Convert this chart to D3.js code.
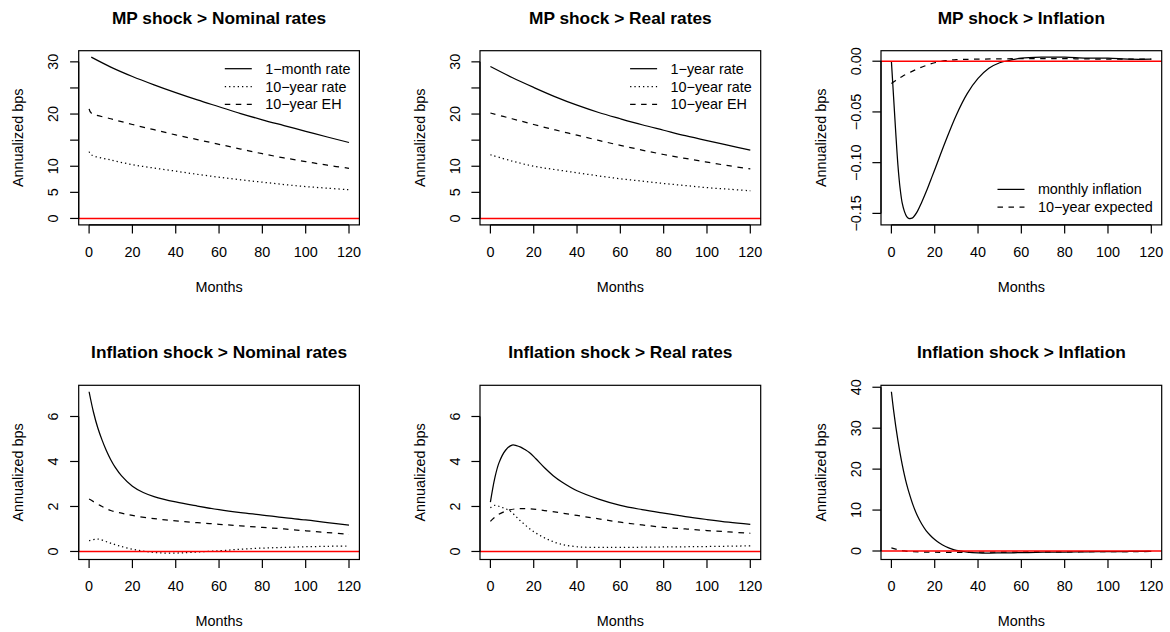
<!DOCTYPE html>
<html><head><meta charset="utf-8">
<script src="https://cdn.jsdelivr.net/npm/d3@7"></script>
<style>
body{margin:0;background:#fff}
svg{display:block}
text{font-family:"Liberation Sans",Arial,Helvetica,sans-serif;fill:#000}
</style>
</head><body>
<svg id="c" width="1170" height="632"></svg>
<script>
// ---------------- DATA ----------------
const xTicks = [0, 20, 40, 60, 80, 100, 120];
const xTickLabels = ["0", "20", "40", "60", "80", "100", "120"];

// Panel 1: MP shock > Nominal rates
const p1SolidX = [1, 10, 20, 30, 40, 50, 60, 70, 80, 90, 100, 110, 120];
const p1SolidY = [30.9, 29.0, 27.2, 25.6, 24.1, 22.7, 21.4, 20.1, 18.9, 17.8, 16.7, 15.6, 14.55];
const p1DashX = [0, 1, 10, 20, 30, 40, 50, 60, 70, 80, 90, 100, 110, 120];
const p1DashY = [21.0, 20.2, 19.1, 18.0, 17.0, 16.0, 15.1, 14.2, 13.3, 12.4, 11.6, 10.9, 10.2, 9.6];
const p1DotX = [0, 1, 10, 20, 30, 40, 50, 60, 70, 80, 90, 100, 110, 120];
const p1DotY = [12.8, 12.2, 11.2, 10.3, 9.65, 9.06, 8.45, 7.9, 7.4, 6.95, 6.5, 6.1, 5.8, 5.5];
const p1Legend = ["1\u2212month rate", "10\u2212year rate", "10\u2212year EH"];

// Panel 2: MP shock > Real rates
const p2SolidX = [0, 10, 20, 30, 40, 50, 60, 70, 80, 90, 100, 110, 120];
const p2SolidY = [29.1, 27.0, 25.1, 23.3, 21.7, 20.3, 19.1, 17.95, 16.9, 15.85, 14.9, 14.0, 13.1];
const p2DashX = [0, 10, 20, 30, 40, 50, 60, 70, 80, 90, 100, 110, 120];
const p2DashY = [20.2, 19.1, 18.0, 16.95, 15.95, 14.95, 14.0, 13.1, 12.25, 11.5, 10.8, 10.1, 9.5];
const p2DotX = [0, 10, 20, 30, 40, 50, 60, 70, 80, 90, 100, 110, 120];
const p2DotY = [12.2, 11.0, 10.0, 9.35, 8.75, 8.15, 7.6, 7.15, 6.7, 6.3, 5.9, 5.6, 5.3];
const p2Legend = ["1\u2212year rate", "10\u2212year rate", "10\u2212year EH"];

const topYTicks = [0, 5, 10, 15, 20, 25, 30];
const topYLabels = ["0", "5", "10", "", "20", "", "30"];

// Panel 3: MP shock > Inflation
const p3SolidX = [0, 1, 2, 3, 4, 5, 6, 7, 8, 9, 10, 12, 14, 16, 18, 20, 25, 30, 35, 40, 45, 50, 55, 60, 70, 80, 90, 100, 110, 120];
const p3SolidY = [0, -0.035, -0.07, -0.102, -0.125, -0.14, -0.148, -0.153, -0.155, -0.155, -0.154, -0.148, -0.139, -0.129, -0.118, -0.107, -0.079, -0.053, -0.032, -0.017, -0.007, -0.0015, 0.001, 0.003, 0.004, 0.004, 0.003, 0.003, 0.002, 0.002];
const p3DashX = [0, 2, 5, 10, 15, 20, 25, 30, 40, 60, 80, 100, 120];
const p3DashY = [-0.022, -0.019, -0.015, -0.0095, -0.005, -0.0015, 0.0005, 0.0015, 0.002, 0.0025, 0.0025, 0.002, 0.002];
const p3Legend = ["monthly inflation", "10\u2212year expected"];
const p3YTicks = [-0.15, -0.10, -0.05, 0.00];
const p3YLabels = ["\u22120.15", "\u22120.10", "\u22120.05", "0.00"];

// Panel 4: Inflation shock > Nominal rates
const p4SolidX = [0, 2, 4, 6, 8, 10, 12, 15, 20, 25, 30, 40, 50, 60, 70, 80, 90, 100, 110, 120];
const p4SolidY = [7.1, 6.2, 5.5, 4.95, 4.48, 4.08, 3.75, 3.36, 2.9, 2.62, 2.44, 2.2, 2.02, 1.86, 1.73, 1.62, 1.5, 1.4, 1.28, 1.17];
const p4DashX = [0, 5, 10, 15, 20, 30, 40, 50, 60, 70, 80, 90, 100, 110, 120];
const p4DashY = [2.33, 2.05, 1.82, 1.7, 1.6, 1.46, 1.36, 1.28, 1.21, 1.14, 1.07, 1.0, 0.92, 0.84, 0.76];
const p4DotX = [0, 4, 9, 13.5, 20, 26, 32, 40, 47, 60, 70, 80, 90, 100, 110, 120];
const p4DotY = [0.48, 0.55, 0.40, 0.26, 0.1, 0, -0.06, -0.07, -0.04, 0.03, 0.1, 0.15, 0.18, 0.21, 0.23, 0.24];

// Panel 5: Inflation shock > Real rates
const p5SolidX = [0, 2, 4, 7, 10, 12, 14, 16, 18, 21, 25, 29, 33, 40, 50, 60, 70, 80, 90, 100, 110, 120];
const p5SolidY = [2.19, 3.25, 3.95, 4.5, 4.73, 4.71, 4.64, 4.53, 4.4, 4.12, 3.72, 3.37, 3.09, 2.7, 2.33, 2.05, 1.86, 1.70, 1.55, 1.42, 1.3, 1.2];
const p5DashX = [0, 3.5, 9, 15, 25, 40, 50, 60, 70, 80, 90, 100, 110, 120];
const p5DashY = [1.34, 1.63, 1.85, 1.91, 1.82, 1.6, 1.45, 1.3, 1.18, 1.07, 1.0, 0.93, 0.87, 0.81];
const p5DotX = [0, 2, 5, 9, 14, 20, 26, 32, 40, 50, 60, 80, 100, 120];
const p5DotY = [1.94, 2.05, 1.97, 1.8, 1.35, 0.88, 0.56, 0.34, 0.21, 0.18, 0.18, 0.2, 0.22, 0.25];

const botYTicks = [0, 2, 4, 6];
const botYLabels = ["0", "2", "4", "6"];

// Panel 6: Inflation shock > Inflation
const p6SolidX = [0, 1, 2, 3, 4, 5, 6, 7, 8, 10, 12, 14, 16, 18, 20, 22, 25, 28, 30, 35, 40, 45, 50, 60, 70, 80, 90, 100, 110, 120];
const p6SolidY = [38.9, 34.4, 30.5, 27.0, 23.9, 21.1, 18.6, 16.4, 14.5, 11.2, 8.6, 6.6, 5.0, 3.8, 2.8, 2.0, 1.1, 0.45, 0.15, -0.25, -0.45, -0.5, -0.48, -0.4, -0.3, -0.25, -0.2, -0.15, -0.12, -0.1];
const p6DashX = [0, 2, 4, 6, 8, 10, 15, 20, 30, 40, 60, 80, 100, 120];
const p6DashY = [0.75, 0.45, 0.2, 0.02, -0.1, -0.18, -0.25, -0.3, -0.32, -0.3, -0.25, -0.2, -0.15, -0.12];
const p6YTicks = [0, 10, 20, 30, 40];
const p6YLabels = ["0", "10", "20", "30", "40"];

const titles = ["MP shock > Nominal rates", "MP shock > Real rates", "MP shock > Inflation",
  "Inflation shock > Nominal rates", "Inflation shock > Real rates", "Inflation shock > Inflation"];

// ---------------- LAYOUT ----------------
const colLeft = [78.7, 480, 881];
const rowTop = [50.7, 385.3];
const boxW = 280.7, boxH = 174.2;
const fs = 14.4, titleFs = 17.3;
const DASH = "5.5,5.5", DOT = "1.3,3";
const styles = {solid: null, dash: DASH, dot: DOT};

function mk(x, y, lty) { return {pts: x.map((v, i) => [v, y[i]]), lty}; }

const panels = [
  {row:0, col:0, series:[mk(p1SolidX,p1SolidY,"solid"), mk(p1DotX,p1DotY,"dot"), mk(p1DashX,p1DashY,"dash")],
   legend:{labels:p1Legend, lty:["solid","dot","dash"], pos:"top"}, yt:topYTicks, yl:topYLabels, group:"top"},
  {row:0, col:1, series:[mk(p2SolidX,p2SolidY,"solid"), mk(p2DotX,p2DotY,"dot"), mk(p2DashX,p2DashY,"dash")],
   legend:{labels:p2Legend, lty:["solid","dot","dash"], pos:"top"}, yt:topYTicks, yl:topYLabels, group:"top"},
  {row:0, col:2, series:[mk(p3SolidX,p3SolidY,"solid"), mk(p3DashX,p3DashY,"dash")],
   legend:{labels:p3Legend, lty:["solid","dash"], pos:"bottom"}, yt:p3YTicks, yl:p3YLabels, group:"p3"},
  {row:1, col:0, series:[mk(p4SolidX,p4SolidY,"solid"), mk(p4DotX,p4DotY,"dot"), mk(p4DashX,p4DashY,"dash")],
   legend:null, yt:botYTicks, yl:botYLabels, group:"bot"},
  {row:1, col:1, series:[mk(p5SolidX,p5SolidY,"solid"), mk(p5DotX,p5DotY,"dot"), mk(p5DashX,p5DashY,"dash")],
   legend:null, yt:botYTicks, yl:botYLabels, group:"bot"},
  {row:1, col:2, series:[mk(p6SolidX,p6SolidY,"solid"), mk(p6DashX,p6DashY,"dash")],
   legend:null, yt:p6YTicks, yl:p6YLabels, group:"p6"}
];

// shared y limits per group (include 0), R-style 4% extension
const groupLim = {};
panels.forEach(p => {
  const vals = p.series.flatMap(s => s.pts.map(d => d[1]));
  const g = groupLim[p.group] || [0, 0];
  groupLim[p.group] = [Math.min(g[0], d3.min(vals)), Math.max(g[1], d3.max(vals))];
});
function ext(l) { const d = (l[1]-l[0])*0.04; return [l[0]-d, l[1]+d]; }

const svg = d3.select("#c");
svg.append("rect").attr("width",1170).attr("height",632).attr("fill","#fff");

panels.forEach((p, i) => {
  const bx = colLeft[p.col], by = rowTop[p.row];
  const g = svg.append("g");
  const x = d3.scaleLinear().domain(ext([0,120])).range([bx, bx+boxW]);
  const y = d3.scaleLinear().domain(ext(groupLim[p.group])).range([by+boxH, by]);
  const bottom = by + boxH;

  // curves
  const line = d3.line().x(d => x(d[0])).y(d => y(d[1])).curve(d3.curveCatmullRom.alpha(0.5));
  p.series.forEach(s => {
    g.append("path").attr("d", line(s.pts)).attr("fill","none").attr("stroke","#000")
      .attr("stroke-width",1.25).attr("stroke-dasharray", styles[s.lty]);
  });
  // red zero line
  g.append("line").attr("x1",bx).attr("x2",bx+boxW).attr("y1",y(0)).attr("y2",y(0))
    .attr("stroke","#ff0000").attr("stroke-width",1.6);

  // box
  g.append("rect").attr("x",bx).attr("y",by).attr("width",boxW).attr("height",boxH)
    .attr("fill","none").attr("stroke","#000").attr("stroke-width",1.2);

  // x axis
  g.append("line").attr("x1",x(xTicks[0])).attr("x2",x(xTicks[xTicks.length-1])).attr("y1",bottom).attr("y2",bottom)
    .attr("stroke","#000").attr("stroke-width",1.2);
  xTicks.forEach((t, k) => {
    g.append("line").attr("x1",x(t)).attr("x2",x(t)).attr("y1",bottom).attr("y2",bottom+8.6)
      .attr("stroke","#000").attr("stroke-width",1.2);
    g.append("text").attr("x",x(t)).attr("y",bottom+31.7).attr("text-anchor","middle")
      .attr("font-size",fs).text(xTickLabels[k]);
  });
  // y axis
  g.append("line").attr("x1",bx).attr("x2",bx).attr("y1",y(p.yt[0])).attr("y2",y(p.yt[p.yt.length-1]))
    .attr("stroke","#000").attr("stroke-width",1.2);
  p.yt.forEach((t, k) => {
    g.append("line").attr("x1",bx-8.6).attr("x2",bx).attr("y1",y(t)).attr("y2",y(t))
      .attr("stroke","#000").attr("stroke-width",1.2);
    if (p.yl[k]) {
      const tx = bx - 20.4, ty = y(t);
      g.append("text").attr("x",tx).attr("y",ty).attr("text-anchor","middle")
        .attr("transform",`rotate(-90,${tx},${ty})`).attr("font-size",fs).text(p.yl[k]);
    }
  });
  // labels
  const cx = bx + boxW/2, cy = by + boxH/2;
  g.append("text").attr("x",cx).attr("y",bottom+66.7).attr("text-anchor","middle").attr("font-size",fs).text("Months");
  g.append("text").attr("x",bx-55.3).attr("y",cy).attr("text-anchor","middle")
    .attr("transform",`rotate(-90,${bx-55.3},${cy})`).attr("font-size",fs).text("Annualized bps");
  g.append("text").attr("x",cx).attr("y",by-27).attr("text-anchor","middle").attr("font-size",titleFs)
    .attr("font-weight","bold").text(titles[i]);

  // legend
  if (p.legend) {
    const L = p.legend, n = L.labels.length;
    const tmp = L.labels.map(t => g.append("text").attr("font-size",fs).text(t));
    const maxW = d3.max(tmp, t => t.node().getComputedTextLength());
    tmp.forEach(t => t.remove());
    const textX = bx + boxW - 9 - maxW;
    L.labels.forEach((lab, k) => {
      const ry = L.pos === "top" ? by + 18 + k*17.8 : bottom - 17.7 - (n-1-k)*17.8;
      g.append("line").attr("x1",textX-40.4).attr("x2",textX-13.4).attr("y1",ry).attr("y2",ry)
        .attr("stroke","#000").attr("stroke-width",1.25).attr("stroke-dasharray", styles[L.lty[k]]);
      g.append("text").attr("x",textX).attr("y",ry+5).attr("font-size",fs).text(lab);
    });
  }
});
</script>
</body></html>
